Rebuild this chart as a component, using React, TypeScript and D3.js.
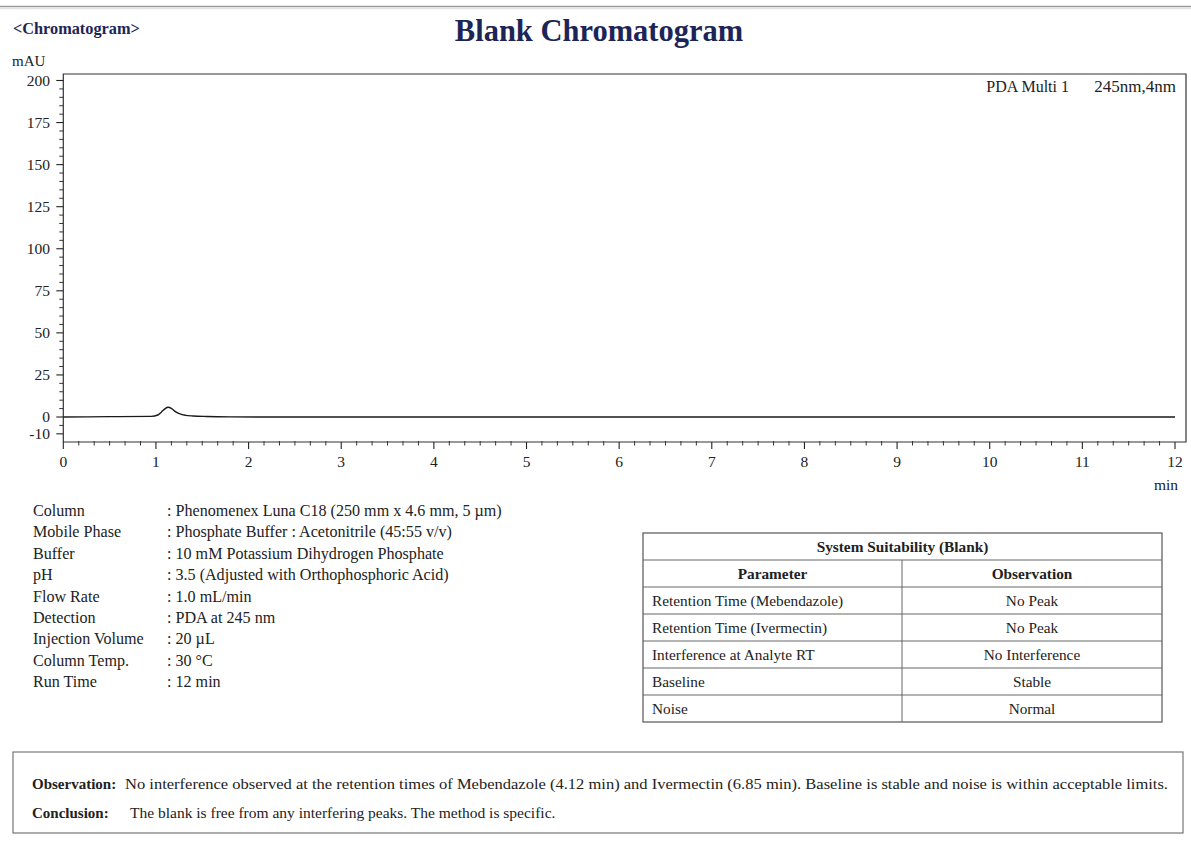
import React from "react";
import * as d3 from "d3";

// Detector trace (time in min, signal in mAU)
const retentionTimes = [0, 0.5, 0.95, 1.02, 1.06, 1.1, 1.13, 1.17, 1.21, 1.26, 1.32, 1.4, 1.55, 1.8, 2.5, 6, 12];
const absorbance = [0, 0.2, 0.4, 1.2, 3.0, 5.0, 5.8, 5.0, 3.2, 1.8, 1.0, 0.6, 0.3, 0.1, 0, 0, 0];

const xTickValues = [0, 1, 2, 3, 4, 5, 6, 7, 8, 9, 10, 11, 12];
const yTickValues = [-10, 0, 25, 50, 75, 100, 125, 150, 175, 200];

const methodLabels = ["Column", "Mobile Phase", "Buffer", "pH", "Flow Rate", "Detection", "Injection Volume", "Column Temp.", "Run Time"];
const methodValues = [
  ": Phenomenex Luna C18 (250 mm x 4.6 mm, 5 µm)",
  ": Phosphate Buffer : Acetonitrile (45:55 v/v)",
  ": 10 mM Potassium Dihydrogen Phosphate",
  ": 3.5 (Adjusted with Orthophosphoric Acid)",
  ": 1.0 mL/min",
  ": PDA at 245 nm",
  ": 20 µL",
  ": 30 °C",
  ": 12 min",
];

const suitabilityParams = ["Retention Time (Mebendazole)", "Retention Time (Ivermectin)", "Interference at Analyte RT", "Baseline", "Noise"];
const suitabilityObs = ["No Peak", "No Peak", "No Interference", "Stable", "Normal"];

const observationText = "No interference observed at the retention times of Mebendazole (4.12 min) and Ivermectin (6.85 min). Baseline is stable and noise is within acceptable limits.";
const conclusionText = "The blank is free from any interfering peaks. The method is specific.";

const W = 1191;
const H = 842;
const FONT = "'Liberation Serif', 'Times New Roman', serif";
const NAVY = "#1d2557";
const INK = "#222";

const frame = { left: 63.3, right: 1186, top: 74, bottom: 442 };

export default function App() {
  const x = d3.scaleLinear().domain([0, 12]).range([63.3, 1175]);
  const y = d3.scaleLinear().domain([0, 200]).range([417, 80.5]);

  const points: [number, number][] = retentionTimes.map((t, i) => [t, absorbance[i]]);
  const line = d3
    .line<[number, number]>()
    .x((d) => x(d[0]))
    .y((d) => y(d[1]))
    .curve(d3.curveMonotoneX);

  const yMinor: number[] = d3.range(-10, 201, 5).filter((v) => v % 25 !== 0 && v !== -10);
  const xMinor: number[] = [];
  for (let m = 0; m < 12; m++) {
    for (let k = 1; k < 6; k++) xMinor.push(m + k / 6);
  }

  // table geometry
  const tLeft = 643;
  const tRight = 1162;
  const tMid = 902;
  const tTop = 533;
  const rowH = 27;
  const tRows = 2 + suitabilityParams.length;
  const tFont = 15.3;

  return (
    <svg
      width={W}
      height={H}
      viewBox={`0 0 ${W} ${H}`}
      style={{ position: "absolute", left: 0, top: 0, background: "#fff" }}
      fontFamily={FONT}
    >
      <rect x={0} y={0} width={W} height={H} fill="#fff" />
      {/* page rule */}
      <line x1={0} x2={W} y1={6.5} y2={6.5} stroke="#9a9a9a" strokeWidth={1.5} />
      <line x1={0} x2={W} y1={8.5} y2={8.5} stroke="#e2e2e2" strokeWidth={1.5} />

      <text x={13} y={34} fontSize={16.3} fontWeight="bold" fill={NAVY}>
        {"<Chromatogram>"}
      </text>
      <text x={599} y={41} fontSize={30.5} fontWeight="bold" fill={NAVY} textAnchor="middle">
        Blank Chromatogram
      </text>
      <text x={12} y={66} fontSize={15} fill={INK}>
        mAU
      </text>

      {/* plot frame */}
      <path
        d={`M${frame.left},${frame.bottom} V${frame.top} H${frame.right} V${frame.bottom} H${frame.left}`}
        fill="none"
        stroke="#333"
        strokeWidth={1.2}
      />
      <text x={1069} y={92} fontSize={16} fill={INK} textAnchor="end">
        PDA Multi 1
      </text>
      <text x={1176} y={92} fontSize={17} fill={INK} textAnchor="end">
        245nm,4nm
      </text>

      {/* y axis ticks */}
      {yTickValues.map((v) => (
        <g key={`yt${v}`}>
          <line x1={frame.left - 7} x2={frame.left} y1={y(v)} y2={y(v)} stroke="#222" strokeWidth={1.1} />
          <text x={50} y={y(v) + 5} fontSize={15.5} fill={INK} textAnchor="end">
            {v}
          </text>
        </g>
      ))}
      {yMinor.map((v) => (
        <line key={`ym${v}`} x1={frame.left - 4} x2={frame.left} y1={y(v)} y2={y(v)} stroke="#333" strokeWidth={1} />
      ))}

      {/* x axis ticks */}
      {xTickValues.map((v) => (
        <g key={`xt${v}`}>
          <line x1={x(v)} x2={x(v)} y1={frame.bottom} y2={frame.bottom + 7} stroke="#222" strokeWidth={1.1} />
          <text x={x(v)} y={467} fontSize={15.5} fill={INK} textAnchor="middle">
            {v}
          </text>
        </g>
      ))}
      {xMinor.map((v, i) => (
        <line key={`xm${i}`} x1={x(v)} x2={x(v)} y1={frame.bottom - 1} y2={frame.bottom + 3.5} stroke="#333" strokeWidth={1} />
      ))}
      <text x={1178} y={490} fontSize={15.5} fill={INK} textAnchor="end">
        min
      </text>

      {/* chromatogram trace */}
      <path d={line(points) || ""} fill="none" stroke="#1a1a1a" strokeWidth={1.4} />

      {/* method conditions */}
      {methodLabels.map((lab, i) => (
        <g key={lab}>
          <text x={33} y={516 + i * 21.4} fontSize={16.1} fill={INK}>
            {lab}
          </text>
          <text x={167} y={516 + i * 21.4} fontSize={16.1} fill={INK}>
            {methodValues[i]}
          </text>
        </g>
      ))}

      {/* system suitability table */}
      <rect x={tLeft} y={tTop} width={tRight - tLeft} height={rowH * tRows} fill="none" stroke="#555" strokeWidth={1.2} />
      {d3.range(1, tRows).map((r) => (
        <line key={`tr${r}`} x1={tLeft} x2={tRight} y1={tTop + r * rowH} y2={tTop + r * rowH} stroke="#666" strokeWidth={1} />
      ))}
      <line x1={tMid} x2={tMid} y1={tTop + rowH} y2={tTop + rowH * tRows} stroke="#666" strokeWidth={1} />
      <text x={(tLeft + tRight) / 2} y={tTop + rowH / 2 + 5.5} fontSize={tFont} fontWeight="bold" fill={INK} textAnchor="middle">
        System Suitability (Blank)
      </text>
      <text x={(tLeft + tMid) / 2} y={tTop + rowH * 1.5 + 5.5} fontSize={tFont} fontWeight="bold" fill={INK} textAnchor="middle">
        Parameter
      </text>
      <text x={(tMid + tRight) / 2} y={tTop + rowH * 1.5 + 5.5} fontSize={tFont} fontWeight="bold" fill={INK} textAnchor="middle">
        Observation
      </text>
      {suitabilityParams.map((p, i) => (
        <g key={p}>
          <text x={652} y={tTop + rowH * (2.5 + i) + 5.5} fontSize={tFont} fill={INK}>
            {p}
          </text>
          <text x={(tMid + tRight) / 2} y={tTop + rowH * (2.5 + i) + 5.5} fontSize={tFont} fill={INK} textAnchor="middle">
            {suitabilityObs[i]}
          </text>
        </g>
      ))}

      {/* observation / conclusion box */}
      <rect x={13} y={752} width={1170} height={81} fill="none" stroke="#777" strokeWidth={1.2} />
      <text x={32} y={789} fontSize={15} fontWeight="bold" fill={INK}>
        Observation:
      </text>
      <text x={125} y={789} fontSize={15} fill={INK} textLength={1043} lengthAdjust="spacingAndGlyphs">
        {observationText}
      </text>
      <text x={32} y={818} fontSize={15} fontWeight="bold" fill={INK}>
        Conclusion:
      </text>
      <text x={130} y={818} fontSize={15.5} fill={INK}>
        {conclusionText}
      </text>
    </svg>
  );
}
